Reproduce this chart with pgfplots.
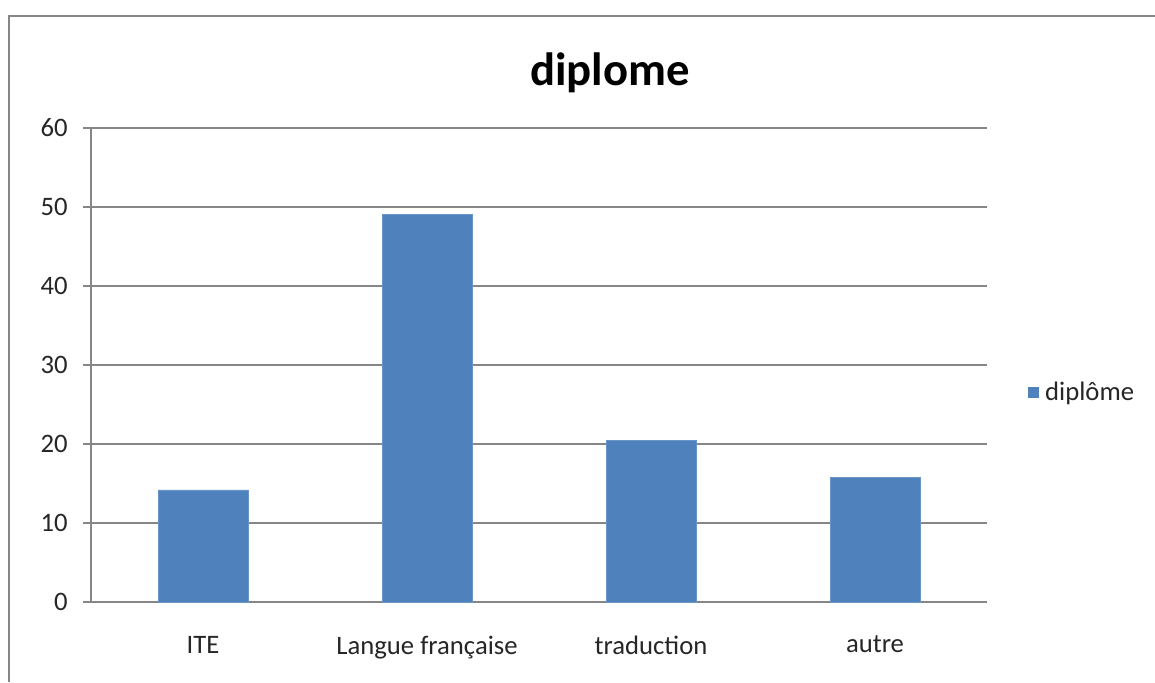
\documentclass[border=0pt]{standalone}
\usepackage{fontspec}
\setmainfont{Carlito}
\usepackage{pgfplots}
\pgfplotsset{compat=1.18}
\definecolor{barblue}{HTML}{4F81BD}
\definecolor{framegray}{HTML}{868686}
\begin{document}
\begin{tikzpicture}
\useasboundingbox (0pt,0pt) rectangle (866.25pt,511.5pt);
% chart frame (left and top edges)
\draw[framegray, line width=1.5pt] (6.75pt,0pt) -- (6.75pt,499.5pt) -- (866.25pt,499.5pt);
% title
\node[font=\fontsize{35}{40}\selectfont\bfseries] at (457.5pt,456.75pt) {diplome};
\begin{axis}[
  at={(68.25pt,60pt)}, anchor=south west,
  scale only axis, width=672pt, height=355.5pt,
  ybar, bar width=0.4,
  xmin=-0.5, xmax=3.5, ymin=0, ymax=60,
  xtick={0,1,2,3},
  xticklabels={ITE, Langue française, traduction, autre},
  ytick={0,10,...,60},
  extra x ticks={-0.5,0.5,1.5,2.5,3.5},
  extra x tick labels={},
  extra x tick style={major tick length=6pt, grid=none},
  major x tick style={draw=none},
  tick align=outside, major tick length=6pt,
  tick style={framegray, line width=0.8pt},
  ymajorgrids, grid style={framegray, line width=0.8pt},
  axis x line*=bottom, axis y line*=left,
  axis line style={framegray, line width=0.8pt, -},
  tick label style={font=\fontsize{20}{24}\selectfont, text=black!85},
  /pgf/number format/assume math mode=true,
  xticklabel style={yshift=-16pt},
  yticklabel style={xshift=-8pt},
  legend style={at={(rel axis cs:1.0455,0.443)}, anchor=west, draw=none, fill=none,
    font=\fontsize{20}{24}\selectfont, text=black!85, inner sep=0pt,
    nodes={inner xsep=5pt}},
  legend image code/.code={\fill[barblue] (0pt,-3.75pt) rectangle (7.5pt,3.75pt);},
]
\addplot[fill=barblue, draw=barblue!85!white] coordinates {(0,14.2) (1,49.05) (2,20.45) (3,15.8)};
\addlegendentry{diplôme}
\end{axis}
\end{tikzpicture}
\end{document}
